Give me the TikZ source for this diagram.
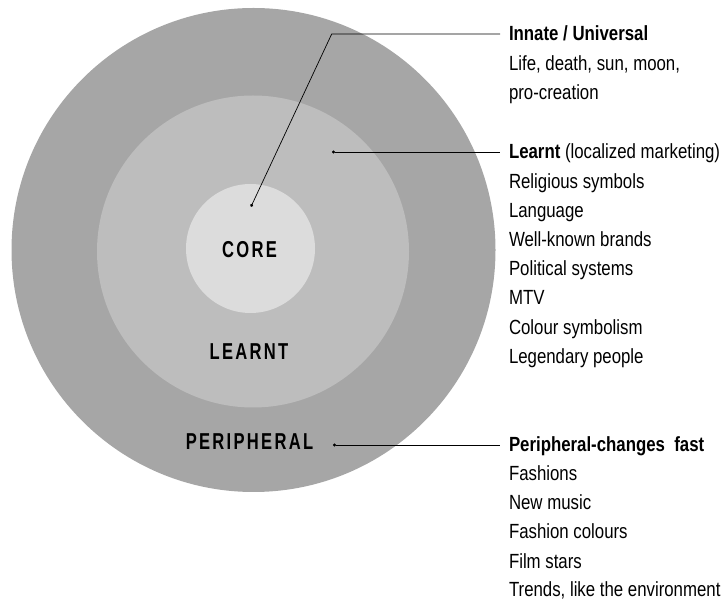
\documentclass[tikz,border=0pt]{standalone}
\usepackage{fontspec}
\setmainfont{Liberation Sans}[FakeStretch=0.82]
\newfontfamily\ringfont{Liberation Sans}[FakeStretch=0.72,LetterSpace=10]
\usetikzlibrary{arrows.meta}
\definecolor{ringout}{HTML}{A6A6A6}
\definecolor{ringmid}{HTML}{BDBDBD}
\definecolor{ringcore}{HTML}{DCDCDC}

\begin{document}
\begin{tikzpicture}[x=1pt, y=1pt,
  ring/.style={circle, inner sep=0pt, draw=none},
  ringlabel/.style={font=\ringfont\bfseries\fontsize{23}{25}\selectfont, inner sep=0pt},
  listtxt/.style={anchor=west, font=\fontsize{20.5}{23}\selectfont, inner sep=0pt,
    outer xsep=9pt, text height=16pt, text depth=2pt},
  headtxt/.style={listtxt, font=\bfseries\fontsize{20.5}{23}\selectfont},
  leader/.style={draw=black, line width=0.7pt, {Circle[length=3pt]}-},
]
\useasboundingbox (0,0) rectangle (723,600);

% rings
\node[ring, fill=ringout, minimum size=484pt] (outer) at (253.5,350) {};
\node[ring, fill=ringmid, minimum size=312pt] (middle) at (253,348.5) {};
\node[ring, fill=ringcore, minimum size=129pt] (core) at (250.5,351.5) {};

\node[ringlabel] (corelbl) at (249.5,350) {CORE};
\node[ringlabel] (learntlbl) at (249,248) {LEARNT};
\node[ringlabel] (perilbl) at (249.5,158.5) {PERIPHERAL};

% leader ends
\coordinate (innatedot) at (251,393.3);
\coordinate (innatebend) at (331.7,566);
\coordinate (learntdot) at (332,448);
\coordinate (peridot) at (333,155);

% Innate / Universal
\node[headtxt] (innate) at (500,566) {Innate / Universal};
\node[listtxt] (innate1) at (500,536.8) {Life, death, sun, moon,};
\node[listtxt] (innate2) at (500,507.6) {pro-creation};

% Learnt
\node[listtxt] (learnt) at (500,448) {\textbf{Learnt} (localized marketing)};
\node[listtxt] (learnt1) at (500,418.8) {Religious symbols};
\node[listtxt] (learnt2) at (500,389.6) {Language};
\node[listtxt] (learnt3) at (500,360.4) {Well-known brands};
\node[listtxt] (learnt4) at (500,331.2) {Political systems};
\node[listtxt] (learnt5) at (500,302) {MTV};
\node[listtxt] (learnt6) at (500,272.8) {Colour symbolism};
\node[listtxt] (learnt7) at (500,243.6) {Legendary people};

% Peripheral
\node[headtxt] (peri) at (500,155) {Peripheral-changes\ \ fast};
\node[listtxt] (peri1) at (500,126) {Fashions};
\node[listtxt] (peri2) at (500,97) {New music};
\node[listtxt] (peri3) at (500,68) {Fashion colours};
\node[listtxt] (peri4) at (500,39) {Film stars};
\node[listtxt] (peri5) at (500,10.5) {Trends, like the environment};

% leaders
\draw[leader] (innatedot) -- (innatebend) -- (innate.west);
\draw[leader] (learntdot) -- (learnt.west);
\draw[leader] (peridot) -- (peri.west);

\end{tikzpicture}
\end{document}
